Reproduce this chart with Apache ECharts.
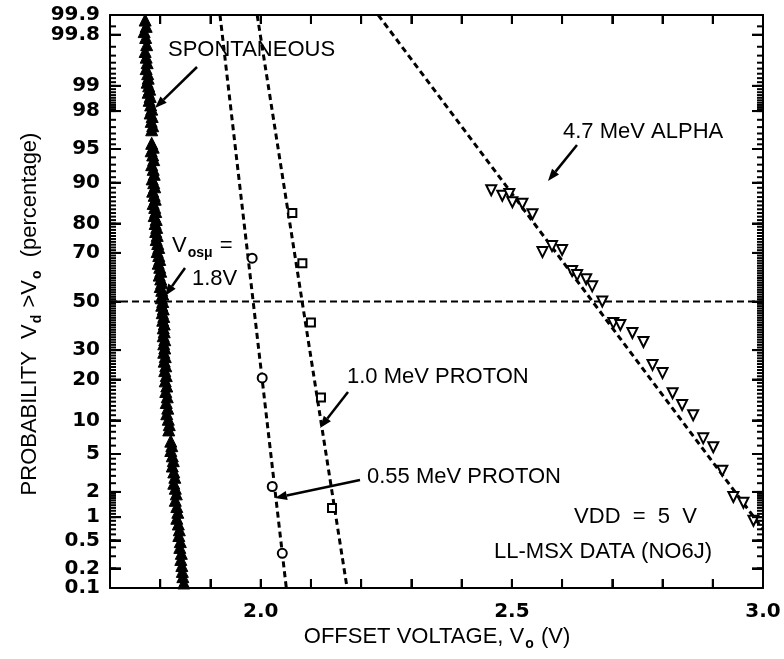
<!DOCTYPE html>
<html><head><meta charset="utf-8">
<script src="https://cdn.jsdelivr.net/npm/echarts@6/dist/echarts.min.js"></script>
<style>html,body{margin:0;padding:0;background:#fff}#c{width:784px;height:659px}</style>
</head><body><div id="c"></div>
<script>
// ---------- data (voltage in V, probability in %) ----------
const spontVolt = [1.770,1.772,1.768,1.771,1.773,1.770,1.772,1.774,1.772,1.775,1.776,1.774,1.777,1.779,1.776,1.780,1.778,1.781,1.783,1.780,1.784,1.782,1.785,1.783,
 1.783,1.786,1.782,1.785,1.787,1.783,1.786,1.788,1.784,1.787,1.789,1.785,1.788,1.790,1.786,1.789,1.791,1.788,1.792,1.790,1.793,1.791,1.794,1.792,1.795,1.797,1.794,1.797,1.799,1.796,1.799,1.801,1.798,1.801,1.803,1.800,1.803,1.805,1.802,1.805,1.803,1.806,1.804,1.807,1.805,1.808,1.806,1.808,1.806,1.809,1.807,1.809,1.807,1.810,1.808,1.811,1.809,1.812,1.810,1.813,1.811,1.814,1.812,1.815,1.813,1.816,1.818,1.817,
 1.821,1.823,1.821,1.824,1.826,1.824,1.827,1.829,1.827,1.830,1.832,1.830,1.833,1.835,1.833,1.836,1.838,1.837,1.840,1.839,1.842,1.841,1.843,1.844,1.845,1.847];
const spontProb = [99.88,99.85,99.82,99.78,99.72,99.65,99.58,99.5,99.4,99.3,99.2,99.1,99.0,98.9,98.8,98.65,98.5,98.3,98.1,97.9,97.7,97.4,97.1,96.8,
 95.6,95.2,94.8,94.3,93.7,93.0,92.3,91.5,90.7,90.0,89.2,88.3,87.4,86.5,85.5,84.5,83.4,82.3,81.2,80.0,78.8,77.5,76.2,74.8,73.4,72.0,70.5,69.0,67.5,66.0,64.4,62.8,61.2,59.6,58.0,56.4,54.8,53.2,51.6,50.0,48.4,46.8,45.2,43.6,42.0,40.4,38.8,37.2,35.6,34.0,32.4,30.8,29.2,27.6,26.0,24.4,22.8,21.2,19.6,18.1,16.6,15.2,13.8,12.5,11.3,10.2,9.2,8.3,
 6.6,6.0,5.4,4.8,4.3,3.8,3.3,2.9,2.5,2.2,1.9,1.6,1.35,1.15,0.97,0.82,0.69,0.58,0.48,0.40,0.33,0.27,0.22,0.18,0.15,0.12];

const p055Volt = [1.983, 2.003, 2.023, 2.043];
const p055Prob = [68, 20.5, 2.3, 0.33];
const p055FitVolt = [1.919, 2.051];
const p055FitProb = [99.9, 0.1];

const p10Volt = [2.063, 2.083, 2.100, 2.120, 2.142];
const p10Prob = [83, 66, 41, 15, 1.3];
const p10FitVolt = [1.993, 2.172];
const p10FitProb = [99.9, 0.1];

const alphaVolt = [2.459,2.481,2.495,2.501,2.521,2.541,2.561,2.580,2.600,2.620,2.630,2.648,2.660,2.680,2.702,2.716,2.740,2.762,2.780,2.800,2.820,2.839,2.861,2.881,2.901,2.919,2.941,2.961,2.981];
const alphaProb = [88.5,87.3,87.7,85.8,85.4,82.7,70.3,72.5,71.1,62.9,61.2,59.5,56.5,50,40.8,40,36.7,33.1,24.7,22,16.1,13.2,11,7,5.8,3.4,1.75,1.5,0.9];
const alphaFitVolt = [2.234, 3.0];
const alphaFitProb = [99.9, 0.7];

const medianVolt = [1.7, 3.0];
const medianProb = [50, 50];

const yLabelVals = [0.1,0.2,0.5,1,2,5,10,20,30,50,70,80,90,95,98,99,99.8,99.9];
const yLabelText = ['0.1','0.2','0.5','1','2','5','10','20','30','50','70','80','90','95','98','99','99.8','99.9'];
const xLabelVals = [2.0, 2.5, 3.0];
const xTickVals = [1.8, 1.9, 2.0, 2.1, 2.2, 2.3, 2.4, 2.5, 2.6, 2.7, 2.8, 2.9];

// ---------- normal-probability (probit) axis transform ----------
function probit(p){
  const a=[-3.969683028665376e+01,2.209460984245205e+02,-2.759285104469687e+02,1.383577518672690e+02,-3.066479806614716e+01,2.506628277459239e+00];
  const b=[-5.447609879822406e+01,1.615858368580409e+02,-1.556989798598866e+02,6.680131188771972e+01,-1.328068155288572e+01];
  const c=[-7.784894002430293e-03,-3.223964580411365e-01,-2.400758277161838e+00,-2.549732539343734e+00,4.374664141464968e+00,2.938163982698783e+00];
  const d=[7.784695709041462e-03,3.224671290700398e-01,2.445134137142996e+00,3.754408661907416e+00];
  const pl=0.02425, ph=1-pl; let q,r;
  if(p<pl){q=Math.sqrt(-2*Math.log(p));return (((((c[0]*q+c[1])*q+c[2])*q+c[3])*q+c[4])*q+c[5])/((((d[0]*q+d[1])*q+d[2])*q+d[3])*q+1);}
  if(p<=ph){q=p-0.5;r=q*q;return (((((a[0]*r+a[1])*r+a[2])*r+a[3])*r+a[4])*r+a[5])*q/(((((b[0]*r+b[1])*r+b[2])*r+b[3])*r+b[4])*r+1);}
  q=Math.sqrt(-2*Math.log(1-p));return -(((((c[0]*q+c[1])*q+c[2])*q+c[3])*q+c[4])*q+c[5])/((((d[0]*q+d[1])*q+d[2])*q+d[3])*q+1);
}
const Z = pct => probit(pct/100);
const pairs = (vs, ps) => vs.map((v,i)=>[v, Z(ps[i])]);

function range(a,b,s){const out=[];for(let v=a;v<b-1e-9;v+=s)out.push(+v.toFixed(3));return out;}
const minorProb = [].concat(range(0.1,1,0.1), range(1,2,0.1), range(2,5,0.5), range(5,95,1), range(95,98,0.5), range(98,99.8,0.1), [99.85]);

const X0 = 1.7, X1 = 3.0;
const zMin = Z(0.1), zMax = Z(99.9);
const majorZ = yLabelVals.map(Z);
const minorZ = minorProb.map(Z);

const BLACK='#000';
const tickFont = {color:BLACK, fontFamily:'DejaVu Sans', fontWeight:'bold', fontSize:20};

function yAx(pos){
  return {type:'value', position:pos, min:zMin, max:zMax,
    axisLine:{show:true, onZero:false, lineStyle:{color:BLACK,width:2}},
    axisTick:{show:true, inside:true, length:11, customValues:majorZ, lineStyle:{color:BLACK,width:2}},
    axisLabel:{show:false}, splitLine:{show:false}};
}
function xAx(pos, labels){
  return {type:'value', position:pos, min:X0, max:X1, interval:0.1,
    axisLine:{show:true, onZero:false, lineStyle:{color:BLACK,width:2}},
    axisTick:{show:true, inside:true, length:9, lineStyle:{color:BLACK,width:2}},
    axisLabel: labels ? Object.assign({show:true, customValues:xLabelVals, formatter:v=>v.toFixed(1), margin:14}, tickFont) : {show:false},
    splitLine:{show:false}};
}
function dashed(name, data, w, dash){
  return {type:'line', name, data, showSymbol:false, symbol:'none', z:2,
    lineStyle:{color:BLACK, width:w, type:dash||[6,4]}};
}
function markers(name, data, symbol, size, filled, rot){
  return {type:'scatter', name, data, symbol, symbolSize:size, symbolRotate:rot||0, z:5,
    itemStyle:{color: filled?BLACK:'#fff', borderColor:BLACK, borderWidth: filled?1:2, opacity:1}};
}

// ---------- annotations ----------
const FONT = 'Liberation Sans';
function txt(x,y,text,align){
  return {type:'text', x, y, z:100, style:{text, fill:BLACK, fontFamily:FONT, fontSize:22, textAlign:align||'left', textVerticalAlign:'middle'}};
}
function arrow(x1,y1,x2,y2){
  const ang=Math.atan2(y2-y1,x2-x1), L=12, W=4.5;
  const bx=x2-L*Math.cos(ang), by=y2-L*Math.sin(ang);
  return [
    {type:'line', z:100, shape:{x1,y1,x2:bx,y2:by}, style:{stroke:BLACK,lineWidth:2.5}},
    {type:'polygon', z:100, shape:{points:[[x2,y2],[bx+W*Math.sin(ang),by-W*Math.cos(ang)],[bx-W*Math.sin(ang),by+W*Math.cos(ang)]]}, style:{fill:BLACK}}
  ];
}
const subRich = {
  m:{fontFamily:FONT, fontSize:22, lineHeight:28, verticalAlign:'middle'},
  s:{fontFamily:FONT, fontSize:14, fontWeight:'bold', lineHeight:28, verticalAlign:'bottom', padding:[0,1,0,1]}
};
const graphics = [].concat(
  [txt(168,50,'SPONTANEOUS')], arrow(197,67,155,108),
  [{type:'text', x:172, y:246, z:100, style:{text:'{m|V}{s|osμ}{m| =}', rich:subRich, textAlign:'left', textVerticalAlign:'middle', fill:BLACK}}],
  [txt(192,279,'1.8V')], arrow(185,268,165,296),
  [txt(347,377,'1.0 MeV PROTON')], arrow(348,392,320,428),
  [txt(367,477,'0.55 MeV PROTON')], arrow(360,480,275,498),
  [txt(563,132,'4.7 MeV ALPHA')], arrow(577,145,548,181),
  [txt(697,517,'VDD  =  5  V','right')],
  [txt(712,552,'LL-MSX DATA (NO6J)','right')],
  [{type:'text', x:437, y:637, z:100, style:{text:'{m|OFFSET VOLTAGE, V}{s|o}{m| (V)}', rich:subRich, textAlign:'center', textVerticalAlign:'middle', fill:BLACK}}],
  [{type:'text', x:30, y:314, z:100, rotation:Math.PI/2, style:{text:'{m|PROBABILITY  V}{s|d}{m| >V}{s|o}{m|  (percentage)}', rich:subRich, textAlign:'center', textVerticalAlign:'middle', fill:BLACK}}]
);

const chart = echarts.init(document.getElementById('c'));
chart.setOption({
  animation:false,
  backgroundColor:'#fff',
  grid:{left:110, right:21, top:15, bottom:71},
  xAxis:[xAx('bottom',true), xAx('top',false)],
  yAxis:[yAx('left'), yAx('right')],
  series:[
    dashed('median', pairs(medianVolt, medianProb), 2, [7,4]),
    dashed('0.55 fit', pairs(p055FitVolt, p055FitProb), 3),
    dashed('1.0 fit', pairs(p10FitVolt, p10FitProb), 3),
    dashed('alpha fit', pairs(alphaFitVolt, alphaFitProb), 3),
    markers('SPONTANEOUS', pairs(spontVolt, spontProb), 'triangle', 12, true),
    markers('0.55 MeV PROTON', pairs(p055Volt, p055Prob), 'circle', 9, false),
    markers('1.0 MeV PROTON', pairs(p10Volt, p10Prob), 'rect', 8, false),
    markers('4.7 MeV ALPHA', pairs(alphaVolt, alphaProb), 'triangle', 10, false, 180)
  ]
});

// ---------- probability-scale ticks (filled bars) and labels, placed through the chart's own scales ----------
const frame = [];
try{
  const conv = (x,z) => chart.convertToPixel({xAxisIndex:0, yAxisIndex:0}, [x,z]);
  const bar = (x,y,w,h) => ({type:'rect', z:100, shape:{x, y, width:w, height:h}, style:{fill:BLACK}});
  const yTicks = (zs, L) => zs.forEach(z=>{const l=conv(X0,z), r=conv(X1,z);
    frame.push(bar(l[0], l[1]-1, L, 2), bar(r[0]-L, r[1]-1, L, 2));});
  yTicks(minorZ, 6);
  yTicks(majorZ, 11);
  xTickVals.forEach(x=>{const b=conv(x,zMin), t=conv(x,zMax);
    frame.push(bar(b[0]-1, b[1]-9, 2, 9), bar(t[0]-1, t[1], 2, 9));});
  majorZ.forEach((z,i)=>{const l=conv(X0,z);
    frame.push({type:'text', z:100, x:l[0]-10, y:l[1], style:{text:yLabelText[i], fill:BLACK, textAlign:'right', textVerticalAlign:'middle', fontFamily:'DejaVu Sans', fontWeight:'bold', fontSize:20}});});
}catch(e){}
chart.setOption({graphic: graphics.concat(frame)});
</script></body></html>
